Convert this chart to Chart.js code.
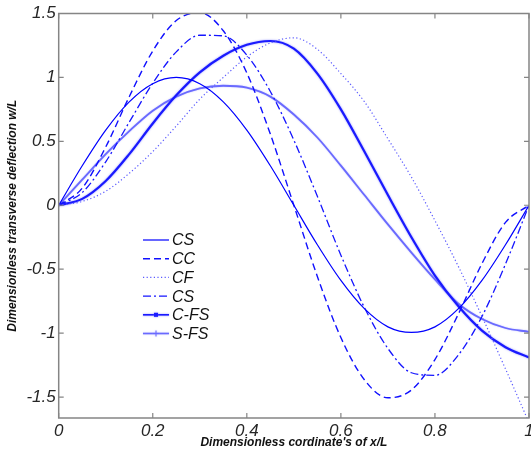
<!DOCTYPE html>
<html><head><meta charset="utf-8">
<script src="https://cdn.jsdelivr.net/npm/chart.js@4.4.1/dist/chart.umd.min.js"></script>
<style>html,body{margin:0;padding:0;background:#fff;}canvas{display:block;}</style>
</head><body>
<canvas id="c" width="531" height="455"></canvas>
<script>
// ---- data ----
const xValues = [0,0.05,0.1,0.15,0.2,0.25,0.3,0.35,0.4,0.45,0.5,0.55,0.6,0.65,0.7,0.75,0.8,0.85,0.9,0.95,1];
const csValues  = [0,0.309,0.588,0.809,0.951,1.0,0.951,0.809,0.588,0.309,0,-0.309,-0.588,-0.809,-0.951,-0.995,-0.951,-0.809,-0.588,-0.309,0];
const ccValues  = [0,0.134,0.456,0.849,1.207,1.445,1.506,1.365,1.035,0.557,0,-0.557,-1.035,-1.365,-1.506,-1.445,-1.207,-0.849,-0.456,-0.134,0];
const cfValues  = [0,0.03,0.11,0.25,0.42,0.62,0.83,1.00,1.16,1.27,1.31,1.22,1.03,0.81,0.52,0.22,-0.12,-0.48,-0.87,-1.28,-1.70];
const cs2Values = [0,0.10,0.34,0.65,0.955,1.20,1.33,1.325,1.175,0.89,0.51,0.07,-0.39,-0.80,-1.12,-1.31,-1.33,-1.17,-0.87,-0.46,0];
const cfsValues = [0,0.05,0.19,0.40,0.64,0.86,1.04,1.17,1.255,1.285,1.225,1.03,0.75,0.42,0.08,-0.25,-0.55,-0.79,-0.98,-1.11,-1.19];
const sfsValues = [0,0.20,0.40,0.58,0.74,0.85,0.915,0.935,0.92,0.85,0.71,0.53,0.31,0.08,-0.15,-0.37,-0.58,-0.77,-0.89,-0.96,-0.99];
const seriesLabels = ['CS','CC','CF','CS','C-FS','S-FS'];
const xTicks = [0,0.2,0.4,0.6,0.8,1];
const xTickLabels = ['0','0.2','0.4','0.6','0.8','1'];
const yTicks = [-1.5,-1,-0.5,0,0.5,1,1.5];
const yTickLabels = ['-1.5','-1','-0.5','0','0.5','1','1.5'];
const xTitle = "Dimensionless cordinate's of x/L";
const yTitle = 'Dimensionless transverse deflection w/L';

// ---- styles ----
const FONT = '"Liberation Sans", Arial, Helvetica, sans-serif';
const seriesStyles = [
  {color:'#0000ff', width:1.2, dash:[]},
  {color:'#1010ff', width:1.4, dash:[7,4]},
  {color:'#5a5aff', width:1.2, dash:[1.2,2.4]},
  {color:'#1515ff', width:1.3, dash:[8,3,2,3]},
  {color:'#1a1aff', width:2.2, dash:[], halo:'rgba(120,120,255,0.85)', blur:2, marker:'square'},
  {color:'#6a6aff', width:1.8, dash:[], halo:'rgba(170,170,255,0.8)', blur:1.5, marker:'plus'}
];
const seriesValues = [csValues, ccValues, cfValues, cs2Values, cfsValues, sfsValues];

const datasets = seriesValues.map((vals,i)=>({
  label: seriesLabels[i],
  data: xValues.map((x,j)=>({x:x, y:vals[j]})),
  borderColor: seriesStyles[i].color,
  borderWidth: seriesStyles[i].width,
  borderDash: seriesStyles[i].dash,
  pointRadius: 0,
  fill: false,
  cubicInterpolationMode: 'monotone'
}));

const halo = {
  id:'halo',
  beforeDatasetDraw(chart,args){
    const st = seriesStyles[args.index];
    if (st.halo){ chart.ctx.save(); chart.ctx.shadowColor = st.halo; chart.ctx.shadowBlur = st.blur; }
  },
  afterDatasetDraw(chart,args){
    if (seriesStyles[args.index].halo) chart.ctx.restore();
  }
};

const frameAndLegend = {
  id:'frameAndLegend',
  afterDraw(chart){
    const {ctx, chartArea:a, scales:{x, y}} = chart;
    ctx.save();
    ctx.strokeStyle = '#858585';
    ctx.lineWidth = 1.5;
    ctx.setLineDash([]);
    ctx.strokeRect(a.left, a.top, a.right - a.left, a.bottom - a.top);
    ctx.lineWidth = 1.2;
    const tl = 5;
    ctx.beginPath();
    x.ticks.forEach(t=>{
      const px = x.getPixelForValue(t.value);
      ctx.moveTo(px, a.bottom); ctx.lineTo(px, a.bottom - tl);
      ctx.moveTo(px, a.top); ctx.lineTo(px, a.top + tl);
    });
    y.ticks.forEach(t=>{
      const py = y.getPixelForValue(t.value);
      ctx.moveTo(a.left, py); ctx.lineTo(a.left + tl, py);
      ctx.moveTo(a.right, py); ctx.lineTo(a.right - tl, py);
    });
    ctx.stroke();

    // legend
    const x0 = 143, x1 = 169, tx = 172, y0 = 240, dy = 18.7;
    chart.data.datasets.forEach((ds,i)=>{
      const st = seriesStyles[i];
      const yy = y0 + i*dy;
      ctx.save();
      if (st.halo){ ctx.shadowColor = st.halo; ctx.shadowBlur = st.blur; }
      ctx.strokeStyle = st.color; ctx.lineWidth = Math.min(st.width, 1.6); ctx.setLineDash(st.dash);
      ctx.beginPath(); ctx.moveTo(x0, yy); ctx.lineTo(x1, yy); ctx.stroke();
      ctx.setLineDash([]);
      const mx = (x0 + x1)/2;
      if (st.marker === 'square'){ ctx.fillStyle = st.color; ctx.fillRect(mx-2, yy-2, 4, 4); }
      if (st.marker === 'plus'){ ctx.lineWidth = 1; ctx.beginPath(); ctx.moveTo(mx-3, yy); ctx.lineTo(mx+3, yy); ctx.moveTo(mx, yy-3); ctx.lineTo(mx, yy+3); ctx.stroke(); }
      ctx.restore();
      ctx.fillStyle = '#111';
      ctx.font = 'italic 16px ' + FONT;
      ctx.textBaseline = 'middle';
      ctx.textAlign = 'left';
      ctx.fillText(ds.label, tx, yy + 1);
    });
    ctx.restore();
  }
};

new Chart(document.getElementById('c'), {
  type: 'line',
  data: {datasets},
  options: {
    responsive: false,
    animation: false,
    devicePixelRatio: 1,
    layout: {padding: {left: 0, top: 13.5, right: 2, bottom: 0}},
    plugins: {legend: {display: false}, tooltip: {enabled: false}},
    scales: {
      x: {
        type: 'linear', min: 0, max: 1,
        afterBuildTicks: s => { s.ticks = xTicks.map(v=>({value:v})); },
        afterFit: s => { s.height = 37; s.paddingLeft = 0; s.paddingRight = 0; },
        grid: {display: false, drawTicks: false},
        border: {display: false},
        ticks: {
          padding: 3, color: '#262626', maxRotation: 0, autoSkip: false,
          font: {family: FONT, size: 17, style: 'italic'},
          callback: v => { const k = xTicks.indexOf(v); return k >= 0 ? xTickLabels[k] : ''; }
        },
        title: {display: true, text: xTitle, color: '#111', padding: {top: 0, bottom: 5},
                font: {family: FONT, size: 12, style: 'italic', weight: 'bold'}}
      },
      y: {
        type: 'linear', min: -1.664, max: 1.5,
        afterBuildTicks: s => { s.ticks = yTicks.map(v=>({value:v})); },
        afterFit: s => { s.width = 58.7; s.paddingTop = 0; s.paddingBottom = 0; },
        grid: {display: false, drawTicks: false},
        border: {display: false},
        ticks: {
          padding: 3, color: '#262626', autoSkip: false,
          font: {family: FONT, size: 17, style: 'italic'},
          callback: v => { const k = yTicks.indexOf(v); return k >= 0 ? yTickLabels[k] : ''; }
        },
        title: {display: true, text: yTitle, color: '#111', padding: {top: 5.8, bottom: 0},
                font: {family: FONT, size: 12, style: 'italic', weight: 'bold'}}
      }
    }
  },
  plugins: [halo, frameAndLegend]
});
</script>
</body></html>
